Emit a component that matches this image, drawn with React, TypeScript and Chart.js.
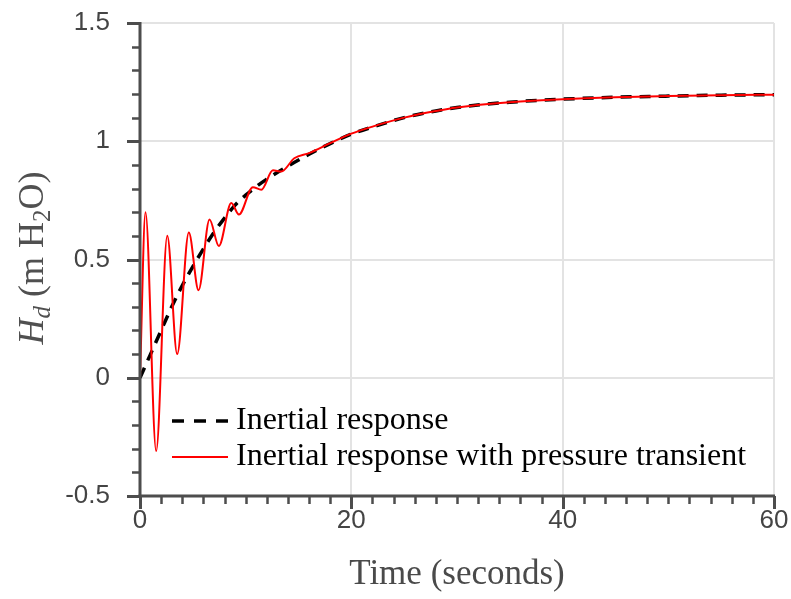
import React, { useEffect, useRef } from 'react';
import { Chart, registerables } from 'chart.js';

Chart.register(...registerables);

// Inertial response (black dashed)
const dashT = [0, 1, 2, 3, 4, 5, 6, 7, 8, 9, 10, 11, 12, 14, 16, 18, 20, 22, 25, 28, 30, 35, 40, 45, 50, 55, 60];
const dashH = [0, 0.10, 0.20, 0.30, 0.39, 0.47, 0.545, 0.615, 0.675, 0.73, 0.772, 0.808, 0.84, 0.895, 0.945, 0.99, 1.03, 1.06, 1.10, 1.128, 1.143, 1.165, 1.178, 1.186, 1.191, 1.195, 1.197];

// Inertial response with pressure transient (red)
const redT = [0, 0.52, 1.53, 2.58, 3.52, 4.62, 5.54, 6.58, 7.46, 8.64, 9.36, 10.68, 11.48, 12.58, 13.37, 14.6, 16, 18, 20, 22, 25, 28, 30, 35, 40, 45, 50, 55, 60];
const redH = [0, 0.70, -0.31, 0.60, 0.10, 0.614, 0.37, 0.669, 0.557, 0.739, 0.69, 0.806, 0.795, 0.877, 0.872, 0.928, 0.95, 0.992, 1.032, 1.062, 1.10, 1.128, 1.143, 1.165, 1.178, 1.186, 1.191, 1.195, 1.197];

const xMajorTicks = [0, 20, 40, 60];
const xTickLabels = ['0', '20', '40', '60'];
const yMajorTicks = [-0.5, 0, 0.5, 1, 1.5];
const yTickLabels = ['-0.5', '0', '0.5', '1', '1.5'];
const legendLabels = ['Inertial response', 'Inertial response with pressure transient'];
const xTitle = 'Time (seconds)';

const AXIS_COLOR = '#4d4d4d';
const SERIF = '"Liberation Serif", "DejaVu Serif", serif';
const SANS = '"Liberation Sans", Arial, sans-serif';

export default function App() {
  const ref = useRef<HTMLCanvasElement>(null);

  useEffect(() => {
    document.body.style.margin = '0';
    const canvas = ref.current;
    if (!canvas) return;

    const axesPlugin = {
      id: 'matlabAxes',
      afterDatasetsDraw(chart: any) {
        const ctx = chart.ctx as CanvasRenderingContext2D;
        const { left, right, top, bottom } = chart.chartArea;
        const xs = chart.scales.x;
        const ys = chart.scales.y;
        ctx.save();
        ctx.strokeStyle = AXIS_COLOR;
        ctx.lineCap = 'butt';

        // axis lines
        ctx.lineWidth = 3;
        ctx.beginPath();
        ctx.moveTo(left, top - 1);
        ctx.lineTo(left, bottom + 1.5);
        ctx.stroke();
        ctx.beginPath();
        ctx.moveTo(left - 1.5, bottom);
        ctx.lineTo(right + 1, bottom);
        ctx.stroke();

        // y ticks (minor every 0.1, major every 0.5)
        for (let i = Math.round(ys.min * 10); i <= Math.round(ys.max * 10); i++) {
          const v = i / 10;
          const major = yMajorTicks.some((m) => Math.abs(m - v) < 1e-9);
          const py = Math.round(ys.getPixelForValue(v)) + 0.5;
          ctx.lineWidth = major ? 3 : 2.5;
          ctx.beginPath();
          ctx.moveTo(left, py);
          ctx.lineTo(left - (major ? 13 : 8), py);
          ctx.stroke();
        }
        // x ticks (minor every 2, major every 20)
        for (let v = xs.min; v <= xs.max + 1e-9; v += 2) {
          const major = xMajorTicks.some((m) => Math.abs(m - v) < 1e-9);
          const px = Math.round(xs.getPixelForValue(v)) + 0.5;
          ctx.lineWidth = major ? 3 : 2.5;
          ctx.beginPath();
          ctx.moveTo(px, bottom);
          ctx.lineTo(px, bottom + (major ? 13 : 8));
          ctx.stroke();
        }

        // tick labels
        ctx.fillStyle = '#444';
        ctx.font = `26px ${SANS}`;
        ctx.textAlign = 'right';
        ctx.textBaseline = 'middle';
        yMajorTicks.forEach((v, i) => {
          ctx.fillText(yTickLabels[i], left - 30, ys.getPixelForValue(v));
        });
        ctx.textAlign = 'center';
        xMajorTicks.forEach((v, i) => {
          ctx.fillText(xTickLabels[i], xs.getPixelForValue(v), bottom + 25);
        });

        // legend
        const lx0 = left + 32;
        const lx1 = left + 88;
        const rows = [421, 457];
        ctx.lineWidth = 3.5;
        ctx.strokeStyle = '#000';
        ctx.setLineDash([12, 10]);
        ctx.beginPath();
        ctx.moveTo(lx0, rows[0]);
        ctx.lineTo(lx1, rows[0]);
        ctx.stroke();
        ctx.setLineDash([]);
        ctx.lineWidth = 2;
        ctx.strokeStyle = '#ff0000';
        ctx.beginPath();
        ctx.moveTo(lx0, rows[1]);
        ctx.lineTo(lx1, rows[1]);
        ctx.stroke();
        ctx.fillStyle = '#000';
        ctx.font = `32px ${SERIF}`;
        ctx.textAlign = 'left';
        ctx.textBaseline = 'alphabetic';
        ctx.fillText(legendLabels[0], lx1 + 8, rows[0] + 8);
        ctx.fillText(legendLabels[1], lx1 + 8, rows[1] + 8);

        // x title
        ctx.fillStyle = '#4a4a4a';
        ctx.font = `35px ${SERIF}`;
        ctx.textAlign = 'center';
        ctx.fillText(xTitle, (left + right) / 2, 584);

        // y title: H_d (m H2O)
        const segs = [
          { t: 'H', f: `italic 36px ${SERIF}`, dy: 0 },
          { t: 'd', f: `italic 25px ${SERIF}`, dy: 7 },
          { t: ' (m H', f: `36px ${SERIF}`, dy: 0 },
          { t: '2', f: `25px ${SERIF}`, dy: 7 },
          { t: 'O)', f: `36px ${SERIF}`, dy: 0 },
        ];
        let total = 0;
        const widths = segs.map((s) => {
          ctx.font = s.f;
          const w = ctx.measureText(s.t).width;
          total += w;
          return w;
        });
        ctx.fillStyle = '#505050';
        ctx.translate(43, 258);
        ctx.rotate(-Math.PI / 2);
        ctx.textAlign = 'left';
        let cx = -total / 2;
        segs.forEach((s, i) => {
          ctx.font = s.f;
          ctx.fillText(s.t, cx, s.dy);
          cx += widths[i];
        });
        ctx.restore();
      },
    };

    const chart = new Chart(canvas, {
      type: 'line',
      data: {
        datasets: [
          {
            label: legendLabels[1],
            data: redT.map((t, i) => ({ x: t, y: redH[i] })),
            borderColor: '#ff0000',
            borderWidth: 2,
            pointRadius: 0,
            fill: false,
            cubicInterpolationMode: 'monotone',
          },
          {
            label: legendLabels[0],
            data: dashT.map((t, i) => ({ x: t, y: dashH[i] })),
            borderColor: '#000000',
            borderWidth: 3.5,
            borderDash: [11, 8],
            pointRadius: 0,
            fill: false,
            cubicInterpolationMode: 'monotone',
          },
        ],
      },
      options: {
        responsive: false,
        animation: false,
        layout: { padding: { left: 0, top: 23, right: 17, bottom: 0 } },
        plugins: {
          legend: { display: false },
          tooltip: { enabled: false },
        },
        scales: {
          x: {
            type: 'linear',
            min: 0,
            max: 60,
            afterFit: (s: any) => { s.height = 103; },
            afterBuildTicks: (s: any) => { s.ticks = xMajorTicks.map((v) => ({ value: v })); },
            ticks: { display: false },
            grid: { color: '#e3e3e3', lineWidth: 2, drawTicks: false },
            border: { display: false },
          },
          y: {
            type: 'linear',
            min: -0.5,
            max: 1.5,
            afterFit: (s: any) => { s.width = 140; },
            afterBuildTicks: (s: any) => { s.ticks = yMajorTicks.map((v) => ({ value: v })); },
            ticks: { display: false },
            grid: { color: '#e3e3e3', lineWidth: 2, drawTicks: false },
            border: { display: false },
          },
        },
      },
      plugins: [axesPlugin],
    });

    return () => chart.destroy();
  }, []);

  return (
    <div style={{ width: 791, height: 599 }}>
      <canvas ref={ref} width={791} height={599} />
    </div>
  );
}
